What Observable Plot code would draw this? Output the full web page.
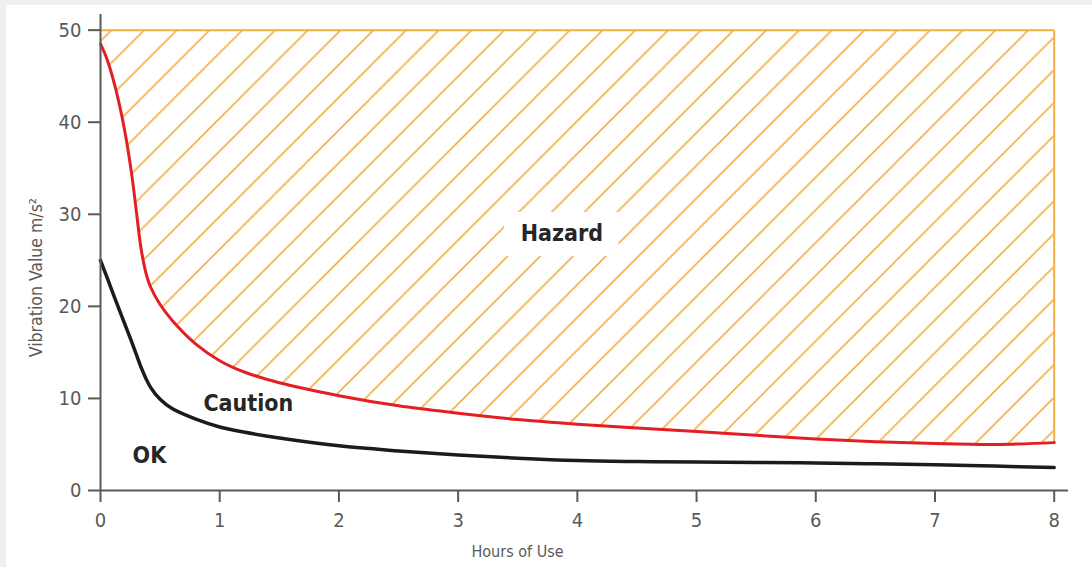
<!DOCTYPE html>
<html>
<head>
<meta charset="utf-8">
<script src="https://cdn.jsdelivr.net/npm/d3@7"></script>
<script src="https://cdn.jsdelivr.net/npm/@observablehq/plot@0.6"></script>
<style>
  html, body { margin: 0; padding: 0; background: #efefef; width: 1092px; height: 567px; overflow: hidden; }
  #panel { position: absolute; left: 6px; top: 5px; width: 1086px; height: 562px; background: #ffffff; }
  #chart { position: absolute; left: 0; top: 0; }
</style>
</head>
<body>
<div id="panel"></div>
<div id="chart"></div>
<script>
// ---- data ----
const hours      = [0, 0.05, 0.12, 0.2, 0.26, 0.3, 0.34, 0.38, 0.42, 0.5, 0.6, 0.8, 1, 1.2, 1.5, 2, 2.5, 3, 3.5, 4, 4.5, 5, 5.5, 6, 6.5, 7, 7.5, 8];
const hazardLine = [48.5, 47.0, 44.0, 39.3, 34.5, 30.4, 26.3, 23.7, 22.1, 20.2, 18.5, 15.9, 14.1, 12.9, 11.7, 10.3, 9.2, 8.4, 7.7, 7.2, 6.8, 6.4, 6.0, 5.6, 5.3, 5.1, 5.0, 5.2];
const okLine     = [25.0, 23.3, 20.9, 18.2, 16.2, 14.8, 13.4, 12.2, 11.2, 9.9, 8.9, 7.75, 6.9, 6.35, 5.7, 4.85, 4.3, 3.85, 3.5, 3.25, 3.15, 3.1, 3.05, 3.0, 2.9, 2.8, 2.65, 2.5];
const hazardTop  = 50;
const xTicks     = [0, 1, 2, 3, 4, 5, 6, 7, 8];
const yTicks     = [0, 10, 20, 30, 40, 50];
const zoneLabels = ["Hazard", "Caution", "OK"];
const zoneX      = [3.87, 1.24, 0.41];
const zoneY      = [27.9, 9.45, 3.8];
const xTitle     = "Hours of Use";
const yTitle     = "Vibration Value m/s²";

// ---- build tables ----
const rows = hours.map((h, i) => ({h, hazard: hazardLine[i], ok: okLine[i], top: hazardTop}));
const labels = zoneLabels.map((t, i) => ({t, x: zoneX[i], y: zoneY[i]}));
const hazardLabel = labels.filter(d => d.t === "Hazard");
const xMin = d3.min(hours), xMax = d3.max(hours);
const lastHazard = hazardLine[hazardLine.length - 1];

const font = "'DejaVu Sans Condensed', 'Liberation Sans Narrow', sans-serif";
const axisColor = "#5a5a5a";
const orange = "#f3ae45";
const curve = "catmull-rom";

const chart = Plot.plot({
  width: 1092,
  height: 567,
  marginLeft: 100,
  marginRight: 24,
  marginTop: 14,
  marginBottom: 77,
  style: {fontFamily: font, background: "transparent", overflow: "visible"},
  x: {domain: [0, 8.12]},
  y: {domain: [0, 51.7]},
  marks: [
    // hatched hazard zone
    Plot.areaY(rows, {x: "h", y1: "hazard", y2: "top", curve, fill: "url(#hatch)"}),
    // hazard zone border (top and right)
    Plot.ruleY([hazardTop], {x1: xMin, x2: xMax, stroke: orange, strokeWidth: 2}),
    Plot.ruleX([xMax], {y1: lastHazard, y2: hazardTop, stroke: orange, strokeWidth: 2}),
    // white box behind the Hazard label
    Plot.rect(hazardLabel, {x1: d => d.x - 0.48, x2: d => d.x + 0.48, y1: d => d.y - 2.5, y2: d => d.y + 2.3, fill: "white"}),
    // limit lines
    Plot.line(rows, {x: "h", y: "hazard", curve, stroke: "#e31e24", strokeWidth: 3}),
    Plot.line(rows, {x: "h", y: "ok", curve, stroke: "#1b1b1b", strokeWidth: 3.5}),
    // zone labels
    Plot.text(labels, {x: "x", y: "y", text: "t", fontSize: 23, fontWeight: "bold", fill: "#262626"}),
    // axes
    Plot.axisX(xTicks, {tickSize: 12, tickPadding: 10, fontSize: 20, stroke: axisColor, strokeWidth: 2, color: axisColor, label: null, tickFormat: d3.format("d")}),
    Plot.axisY(yTicks, {tickSize: 12, tickPadding: 7, fontSize: 20, stroke: axisColor, strokeWidth: 2, color: axisColor, label: null, tickFormat: d3.format("d")}),
    Plot.ruleX([0], {stroke: axisColor, strokeWidth: 2}),
    Plot.ruleY([0], {stroke: axisColor, strokeWidth: 2}),
    // axis titles
    Plot.text([xTitle], {frameAnchor: "bottom", textAnchor: "middle", dx: -67, dy: 66, fontSize: 16, fill: axisColor}),
    Plot.text([yTitle], {frameAnchor: "left", textAnchor: "middle", rotate: -90, dx: -64, dy: 25, fontSize: 17.5, fill: axisColor})
  ]
});

// hatch pattern definition
const hs = 32.75;
const defs = d3.select(chart).insert("defs", ":first-child");
const pat = defs.append("pattern")
  .attr("id", "hatch")
  .attr("patternUnits", "userSpaceOnUse")
  .attr("x", 10.5)
  .attr("y", 0)
  .attr("width", hs)
  .attr("height", hs);
pat.append("path")
  .attr("d", `M-2,2 L2,-2 M0,${hs} L${hs},0 M${hs - 2},${hs + 2} L${hs + 2},${hs - 2}`)
  .attr("stroke", orange)
  .attr("stroke-width", 1.6)
  .attr("fill", "none");

document.getElementById("chart").appendChild(chart);
</script>
</body>
</html>
